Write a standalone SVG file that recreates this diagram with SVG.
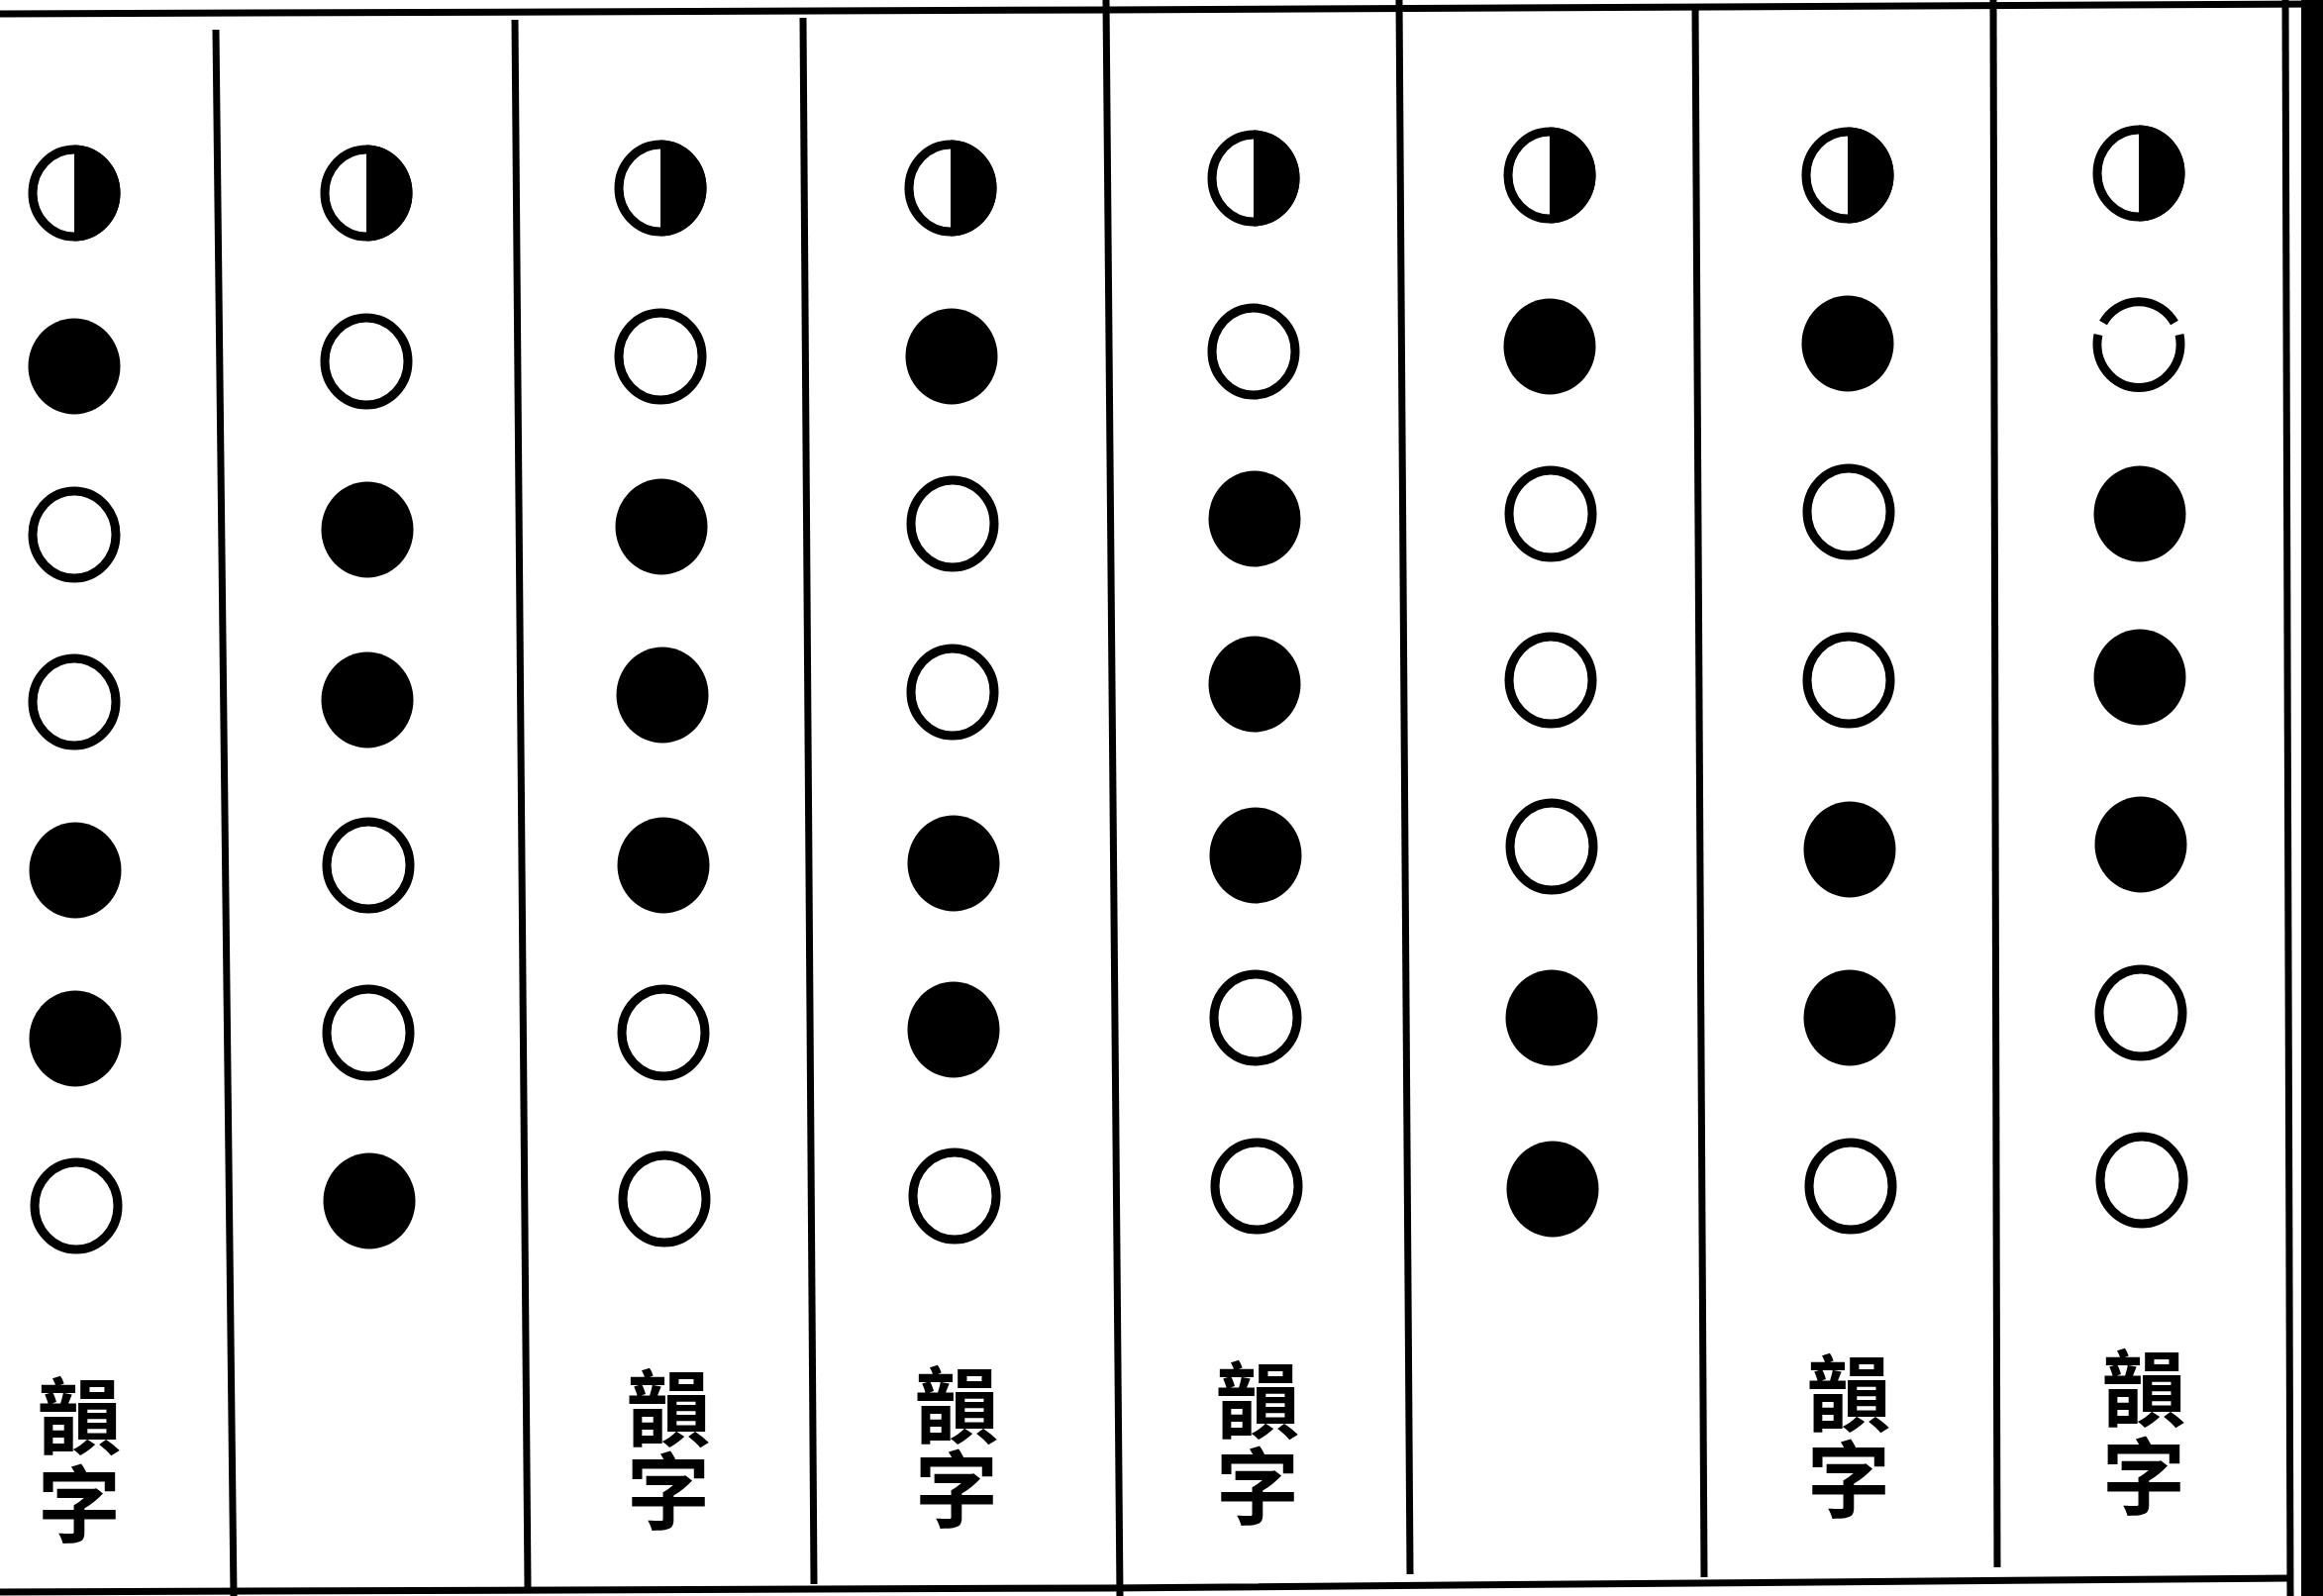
<svg xmlns="http://www.w3.org/2000/svg" xmlns:xlink="http://www.w3.org/1999/xlink" width="2346" height="1612" viewBox="0 0 2346 1612">
<style>
.rule{stroke:#000;stroke-width:7;fill:none;stroke-linecap:butt}
.lbl{font-family:"Liberation Serif","Noto Sans CJK TC","Noto Sans CJK SC",serif;font-size:84px;font-weight:bold;fill:#000;text-anchor:middle}
</style>
<defs>
<g id="open"><ellipse cx="0" cy="0" rx="42" ry="44" fill="#fff" stroke="#000" stroke-width="9"/></g>
<g id="full"><ellipse cx="0" cy="0" rx="46.5" ry="48.5" fill="#000"/></g>
<g id="half"><ellipse cx="0" cy="0" rx="42" ry="44" fill="#fff" stroke="#000" stroke-width="9"/><path d="M0,-48.5 A46.5,48.5 0 0 1 0,48.5 Z" fill="#000"/></g>
<g id="broken"><path d="M-36,-24 A42,44 0 0 1 36,-24" fill="none" stroke="#000" stroke-width="9"/><path d="M-41,-12 A42,44 0 1 0 41,-12" fill="none" stroke="#000" stroke-width="9"/></g>
</defs>
<rect x="0" y="0" width="2346" height="1612" fill="#fff"/>
<g id="grid">
<path class="rule" d="M0,14 L1120,10 L2346,4"/>
<path class="rule" d="M0,1608 L1120,1604 L2312,1594"/>
<path class="rule" d="M218,30 L236,1612"/>
<path class="rule" d="M520,20 L533,1603"/>
<path class="rule" d="M811,18 L822,1600"/>
<path class="rule" d="M1117,0 L1131,1612"/>
<path class="rule" d="M1413,0 L1424,1590"/>
<path class="rule" d="M1712,5 L1721,1593"/>
<path class="rule" d="M2013,0 L2017,1583"/>
<path class="rule" d="M2308,0 L2313,1612"/>
<rect x="2324" y="0" width="22" height="1612" fill="#000"/>
</g>
<g id="connectors"></g>
<g id="col1">
<use xlink:href="#half" x="75" y="195"/>
<use xlink:href="#full" x="75" y="370"/>
<use xlink:href="#open" x="75" y="540"/>
<use xlink:href="#open" x="75" y="709"/>
<use xlink:href="#full" x="76" y="879"/>
<use xlink:href="#full" x="76" y="1049"/>
<use xlink:href="#open" x="77" y="1218"/>
<text class="lbl" x="80" y="1462">韻</text>
<text class="lbl" x="80" y="1551">字</text>
</g>
<g id="col2">
<use xlink:href="#half" x="370" y="195"/>
<use xlink:href="#open" x="370" y="365"/>
<use xlink:href="#full" x="371" y="535"/>
<use xlink:href="#full" x="371" y="707"/>
<use xlink:href="#open" x="372" y="874"/>
<use xlink:href="#open" x="372" y="1043"/>
<use xlink:href="#full" x="373" y="1213"/>
</g>
<g id="col3">
<use xlink:href="#half" x="667" y="190"/>
<use xlink:href="#open" x="667" y="360"/>
<use xlink:href="#full" x="668" y="532"/>
<use xlink:href="#full" x="669" y="702"/>
<use xlink:href="#full" x="670" y="874"/>
<use xlink:href="#open" x="670" y="1043"/>
<use xlink:href="#open" x="671" y="1211"/>
<text class="lbl" x="675" y="1454">韻</text>
<text class="lbl" x="675" y="1538">字</text>
</g>
<g id="col4">
<use xlink:href="#half" x="960" y="190"/>
<use xlink:href="#full" x="961" y="360"/>
<use xlink:href="#open" x="962" y="529"/>
<use xlink:href="#open" x="962" y="699"/>
<use xlink:href="#full" x="963" y="872"/>
<use xlink:href="#full" x="963" y="1040"/>
<use xlink:href="#open" x="964" y="1208"/>
<text class="lbl" x="966" y="1451">韻</text>
<text class="lbl" x="966" y="1536">字</text>
</g>
<g id="col5">
<use xlink:href="#half" x="1266" y="180"/>
<use xlink:href="#open" x="1266" y="355"/>
<use xlink:href="#full" x="1267" y="524"/>
<use xlink:href="#full" x="1267" y="691"/>
<use xlink:href="#full" x="1268" y="864"/>
<use xlink:href="#open" x="1268" y="1028"/>
<use xlink:href="#open" x="1269" y="1198"/>
<text class="lbl" x="1270" y="1446">韻</text>
<text class="lbl" x="1270" y="1533">字</text>
</g>
<g id="col6">
<use xlink:href="#half" x="1565" y="177"/>
<use xlink:href="#full" x="1565" y="350"/>
<use xlink:href="#open" x="1566" y="519"/>
<use xlink:href="#open" x="1566" y="687"/>
<use xlink:href="#open" x="1567" y="855"/>
<use xlink:href="#full" x="1567" y="1028"/>
<use xlink:href="#full" x="1568" y="1201"/>
</g>
<g id="col7">
<use xlink:href="#half" x="1866" y="177"/>
<use xlink:href="#full" x="1866" y="347"/>
<use xlink:href="#open" x="1867" y="517"/>
<use xlink:href="#open" x="1867" y="687"/>
<use xlink:href="#full" x="1868" y="858"/>
<use xlink:href="#full" x="1868" y="1028"/>
<use xlink:href="#open" x="1869" y="1198"/>
<text class="lbl" x="1867" y="1439">韻</text>
<text class="lbl" x="1867" y="1526">字</text>
</g>
<g id="col8">
<use xlink:href="#half" x="2160" y="175"/>
<use xlink:href="#broken" x="2160" y="350"/>
<use xlink:href="#full" x="2161" y="519"/>
<use xlink:href="#full" x="2161" y="684"/>
<use xlink:href="#full" x="2162" y="853"/>
<use xlink:href="#open" x="2162" y="1023"/>
<use xlink:href="#open" x="2163" y="1192"/>
<text class="lbl" x="2165" y="1434">韻</text>
<text class="lbl" x="2165" y="1523">字</text>
</g>
</svg>
